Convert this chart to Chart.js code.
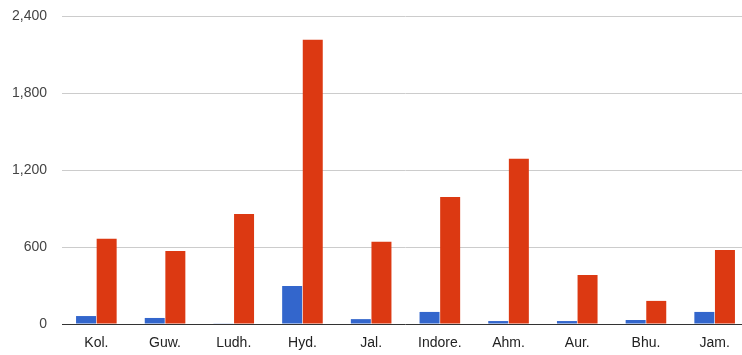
<!DOCTYPE html>
<html>
<head>
<meta charset="utf-8">
<script src="https://cdn.jsdelivr.net/npm/chart.js@4"></script>
<style>
  html, body { margin: 0; padding: 0; overflow: hidden; background: #fff; }
  #wrap { width: 749px; height: 355px; }
</style>
</head>
<body>
<div id="wrap"><canvas id="chart"></canvas></div>
<script>
const cities = ['Kol.', 'Guw.', 'Ludh.', 'Hyd.', 'Jal.', 'Indore.', 'Ahm.', 'Aur.', 'Bhu.', 'Jam.']
const blueValues = [62, 47, 5, 296, 38, 94, 23, 23, 31, 94]
const redValues = [665, 569, 858, 2215, 640, 990, 1287, 382, 180, 577]
const yTicks = [0, 600, 1200, 1800, 2400]

const font = { family: 'Arial, "Liberation Sans", sans-serif', size: 14 }

new Chart(document.getElementById('chart'), {
  type: 'bar',
  data: {
    labels: cities,
    datasets: [
      {
        data: blueValues,
        backgroundColor: '#3366cc',
        categoryPercentage: 0.6,
        barPercentage: 0.97
      },
      {
        data: redValues,
        backgroundColor: '#dc3912',
        categoryPercentage: 0.6,
        barPercentage: 0.97
      }
    ]
  },
  options: {
    responsive: true,
    maintainAspectRatio: false,
    animation: false,
    layout: { padding: { top: 16 } },
    plugins: {
      legend: { display: false },
      tooltip: { enabled: false }
    },
    scales: {
      x: {
        grid: { display: false },
        border: { display: false },
        ticks: { color: '#222', font, padding: 3, maxRotation: 0 },
        afterFit: s => {
          s.height = 31
          s.paddingLeft = 0
          s.paddingRight = 0
        }
      },
      y: {
        min: 0,
        max: 2400,
        afterBuildTicks: s => { s.ticks = yTicks.map(v => ({ value: v })) },
        grid: {
          drawTicks: false,
          color: c => (c.tick.value === 0 ? '#333' : '#ccc')
        },
        border: { display: false },
        ticks: {
          color: '#444',
          font,
          padding: 15,
          callback: v => v.toLocaleString('en-US')
        },
        afterFit: s => {
          s.width = 62
          s.paddingTop = 0
          s.paddingBottom = 0
        }
      }
    }
  }
})
</script>
</body>
</html>
